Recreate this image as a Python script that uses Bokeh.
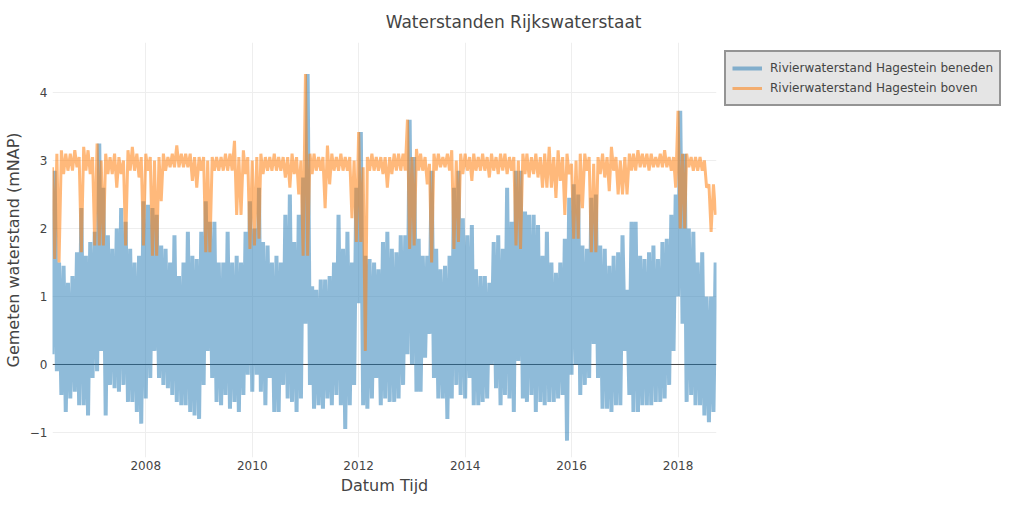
import numpy as np
import pandas as pd
from bokeh.plotting import figure
from bokeh.models import (Range1d, FixedTicker, DatetimeTickFormatter, Span,
                          Legend, LegendItem)
from bokeh.embed import file_html
from bokeh.resources import INLINE

# ---------------- data (monthly extremes) ----------------
first_month = "2006-04-01"
last_day = "2018-09-22"

series_names = ["Rivierwaterstand Hagestein beneden", "Rivierwaterstand Hagestein boven"]

# downstream level (beneden): monthly minimum / maximum, Apr 2006 .. Sep 2018
blue_low = [
    0.15, -0.1, -0.45, -0.7, -0.5, -0.4, -0.6, -0.6, -0.75,
    -0.2, -0.1, 0.2, -0.75, -0.3, -0.35, -0.4, -0.3, -0.55, -0.55, -0.7, -0.87,
    -0.5, -0.2, 0.2, -0.2, -0.3, -0.35, -0.45, -0.55, -0.6, -0.6, -0.7, -0.75,
    -0.8, -0.3, 0.2, -0.2, -0.55, -0.6, -0.45, -0.65, -0.55, -0.7, -0.45, -0.15,
    -0.4, -0.15, -0.4, -0.6, -0.2, -0.7, -0.7, -0.3, -0.5, -0.55, -0.7, -0.5,
    0.6, -0.3, -0.65, -0.6, -0.65, -0.5, -0.6, -0.45, -0.6, -0.95, -0.6, -0.3,
    0.9, -0.6, -0.65, -0.5, -0.2, -0.6, -0.5, -0.55, -0.55, -0.5, -0.3, 0.15,
    0.0, -0.4, -0.4, 0.1, 0.45, -0.2, -0.5, -0.5, -0.8, -0.5, -0.3, -0.45,
    -0.5, -0.2, -0.6, -0.6, -0.55, -0.5, 0.0, -0.35, -0.6, -0.45, -0.5, -0.7,
    0.05, -0.5, -0.55, -0.45, -0.7, -0.55, -0.6, -0.55, -0.55, -0.5, -0.45, -1.12,
    -0.15, 0.0, -0.45, -0.3, -0.2, 0.3, -0.2, -0.65, -0.65, -0.7, -0.6, -0.6,
    0.2, -0.45, -0.7, -0.7, -0.6, -0.6, -0.6, -0.55, -0.55, -0.5, -0.3, 0.2,
    1.0, 0.6, -0.55, -0.45, -0.6, -0.6, -0.75, -0.85, -0.7,
]
blue_high = [
    2.85, 1.5, 1.45, 1.2, 1.3, 1.65, 2.3, 1.6, 1.8,
    1.95, 3.25, 2.6, 1.9, 1.7, 2.0, 2.3, 2.1, 1.7, 1.5, 1.6, 2.4,
    2.35, 2.3, 2.2, 1.75, 1.7, 1.5, 1.9, 1.3, 1.5, 1.95, 1.6, 1.55,
    1.95, 2.4, 2.1, 2.1, 1.5, 1.5, 1.95, 1.5, 1.6, 1.5, 1.95, 2.4,
    2.0, 2.6, 1.8, 1.75, 1.5, 1.6, 1.5, 2.2, 2.5, 1.8, 2.2, 2.75,
    4.27, 1.15, 1.1, 1.25, 1.25, 1.3, 1.5, 2.2, 1.7, 1.95, 1.5, 2.6,
    3.42, 1.6, 1.55, 1.5, 1.4, 1.8, 1.95, 1.7, 1.65, 1.9, 1.9, 3.6,
    3.05, 1.85, 1.6, 1.6, 2.85, 1.7, 1.4, 1.45, 1.6, 2.6, 2.85, 2.15,
    1.9, 2.05, 1.4, 1.3, 1.3, 1.2, 1.8, 1.9, 1.7, 2.6, 2.1, 2.85,
    2.85, 2.25, 2.2, 2.2, 2.05, 1.6, 1.95, 1.5, 1.35, 1.5, 1.85, 2.45,
    2.65, 2.5, 1.75, 1.7, 2.45, 2.5, 1.75, 1.7, 1.45, 1.6, 1.65, 1.9,
    1.1, 2.1, 2.1, 1.6, 1.55, 1.65, 1.75, 1.55, 1.8, 1.85, 2.2, 2.5,
    3.73, 3.1, 2.0, 1.95, 1.5, 1.65, 1.0, 1.0, 1.5,
]
# upstream level (boven): monthly minimum / maximum
orange_low = [
    1.55, 1.5, 2.8, 2.85, 2.85, 2.9, 1.65, 2.85, 2.8,
    1.75, 1.75, 1.75, 2.8, 2.8, 2.6, 2.8, 1.75, 2.85, 2.85, 2.75, 1.75,
    2.85, 1.6, 1.6, 2.4, 2.85, 2.9, 2.9, 2.9, 2.9, 2.9, 2.7, 2.6,
    2.85, 1.65, 1.65, 2.85, 2.85, 2.85, 2.85, 2.85, 2.2, 2.2, 2.8, 1.7,
    1.75, 1.85, 2.8, 2.85, 2.85, 2.85, 2.85, 2.75, 2.6, 2.8, 2.5, 1.6,
    1.6, 2.8, 2.85, 2.85, 2.3, 2.65, 2.85, 2.85, 2.85, 2.85, 2.15, 1.8,
    1.8, 0.2, 2.85, 2.85, 2.85, 2.8, 2.6, 2.8, 2.85, 2.85, 2.85, 1.7,
    1.75, 2.85, 2.85, 2.65, 1.5, 2.85, 2.9, 2.9, 2.85, 1.7, 1.8, 2.8,
    2.85, 2.7, 2.85, 2.85, 2.85, 2.75, 2.85, 2.8, 2.85, 2.8, 2.85, 1.75,
    1.7, 2.8, 2.75, 2.8, 2.75, 2.6, 2.6, 2.6, 2.45, 2.7, 2.2, 2.8,
    1.85, 1.85, 2.3, 2.85, 1.65, 1.65, 2.8, 2.75, 2.55, 2.85, 2.5, 2.5,
    2.5, 2.85, 2.85, 2.9, 2.9, 2.85, 2.9, 2.9, 2.9, 2.9, 2.85, 2.6,
    2.0, 2.0, 2.9, 2.85, 2.85, 2.85, 2.6, 1.95, 2.2,
]
orange_high = [
    2.9, 3.1, 3.15, 3.1, 3.1, 3.15, 3.05, 3.2, 3.15,
    3.05, 3.25, 3.0, 3.1, 3.05, 3.1, 3.05, 3.0, 3.15, 3.2, 3.1, 3.05,
    3.1, 3.05, 3.0, 3.05, 3.1, 3.05, 3.1, 3.22, 3.1, 3.1, 3.1, 3.05,
    3.05, 3.05, 3.0, 3.05, 3.05, 3.05, 3.1, 3.1, 3.29, 3.05, 3.15, 3.05,
    3.0, 3.05, 3.1, 3.05, 3.05, 3.1, 3.05, 3.05, 3.05, 3.1, 3.05, 3.0,
    4.27, 3.1, 3.1, 3.05, 3.05, 3.22, 3.1, 3.05, 3.1, 3.05, 3.05, 3.0,
    3.42, 2.9, 3.05, 3.1, 3.05, 3.05, 3.05, 3.05, 3.1, 3.1, 3.1, 3.6,
    3.05, 3.17, 3.1, 3.05, 2.95, 3.1, 3.1, 3.05, 3.1, 3.15, 3.0, 3.1,
    3.1, 3.05, 3.1, 3.05, 3.1, 3.05, 3.1, 3.05, 3.1, 3.1, 3.05, 3.05,
    3.0, 3.1, 3.1, 3.05, 3.1, 3.05, 3.1, 3.2, 3.05, 3.15, 3.05, 3.1,
    2.95, 3.0, 3.1, 3.1, 3.05, 2.95, 3.05, 3.1, 3.05, 3.2, 3.05, 3.0,
    3.05, 3.1, 3.1, 3.15, 3.1, 3.1, 3.1, 3.05, 3.1, 3.15, 3.05, 3.05,
    3.73, 3.1, 3.1, 3.05, 3.05, 3.05, 3.0, 2.65, 2.65,
]

x_tick_years = [2008, 2010, 2012, 2014, 2016, 2018]
y_ticks = [-1, 0, 1, 2, 3, 4]
y_tick_labels = ["\u22121", "0", "1", "2", "3", "4"]

# ---------------- build the traces ----------------
months = pd.date_range(first_month, periods=len(blue_low), freq="MS")
mids = months + pd.Timedelta(days=15)

def interleave(a, b):
    out = []
    for u, v in zip(a, b):
        out.extend([u, v])
    return out

bx = interleave(months, mids)
by = interleave(blue_low, blue_high)
ox = interleave(months, mids)
oy = interleave(orange_high, orange_low)

FONT = "DejaVu Sans"
TXT = "#444444"

x_start = pd.Timestamp(first_month)
x_end = pd.Timestamp(last_day)

p = figure(frame_width=664, frame_height=415, x_axis_type="datetime",
           x_range=Range1d(x_start, x_end), y_range=Range1d(-1.368, 4.735),
           output_backend="svg", toolbar_location=None,
           min_border_left=52, min_border_right=0,
           min_border_top=42, min_border_bottom=40)
p.outline_line_color = None
p.background_fill_color = "white"
p.border_fill_color = "white"

p.title.text = "Waterstanden Rijkswaterstaat"
p.title.text_font = FONT
p.title.text_font_size = "17px"
p.title.text_font_style = "normal"
p.title.text_color = TXT
p.title.align = "right"
p.title.offset = 75
p.title.vertical_align = "top"
p.title.standoff = 18

p.xgrid.grid_line_color = "#eeeeee"
p.ygrid.grid_line_color = "#eeeeee"
p.xgrid.grid_line_width = 1
p.ygrid.grid_line_width = 1

zero = Span(location=0, dimension="width", line_color="#444444", line_width=1,
            level="underlay")
p.add_layout(zero)

r_blue = p.line(bx, by, line_color="#1f77b4", line_alpha=0.5, line_width=4,
                line_join="bevel")
r_orange = p.line(ox, oy, line_color="#ff7f0e", line_alpha=0.55, line_width=3,
                  line_join="bevel")

xt = [pd.Timestamp(f"{y}-01-01").value / 1e6 for y in x_tick_years]
p.xaxis.ticker = FixedTicker(ticks=xt)
p.xaxis.formatter = DatetimeTickFormatter(years="%Y", months="%Y", days="%Y",
                                          hours="%Y", minutes="%Y")
p.yaxis.ticker = FixedTicker(ticks=y_ticks)
p.yaxis.major_label_overrides = {t: l for t, l in zip(y_ticks, y_tick_labels)}

for ax in (p.xaxis[0], p.yaxis[0]):
    ax.axis_line_color = None
    ax.major_tick_line_color = None
    ax.minor_tick_line_color = None
    ax.major_tick_out = 0
    ax.major_tick_in = 0
    ax.minor_tick_out = 0
    ax.minor_tick_in = 0
    ax.major_label_text_font = FONT
    ax.major_label_text_font_size = "12px"
    ax.major_label_text_color = TXT
    ax.axis_label_text_font = FONT
    ax.axis_label_text_font_style = "normal"
    ax.axis_label_text_color = TXT
    ax.axis_label_text_font_size = "16px"

p.xaxis.axis_label = "Datum Tijd"
p.yaxis.axis_label = "Gemeten waterstand (mNAP)"
p.xaxis.major_label_standoff = 3
p.xaxis.axis_label_standoff = 3
p.yaxis.major_label_standoff = 5
p.yaxis.axis_label_standoff = 4

legend = Legend(items=[LegendItem(label=series_names[0], renderers=[r_blue]),
                       LegendItem(label=series_names[1], renderers=[r_orange])],
                location="top_left")
legend.label_text_font = FONT
legend.label_text_font_size = "12px"
legend.label_text_color = TXT
legend.background_fill_color = "#e5e5e5"
legend.background_fill_alpha = 1
legend.border_line_color = "#444444"
legend.border_line_width = 2
legend.padding = 6
legend.spacing = 0
legend.margin = 8
legend.glyph_width = 30
legend.glyph_height = 20
legend.label_height = 20
legend.label_standoff = 8
p.add_layout(legend, "right")

open("out.html", "w").write(file_html(p, INLINE))
